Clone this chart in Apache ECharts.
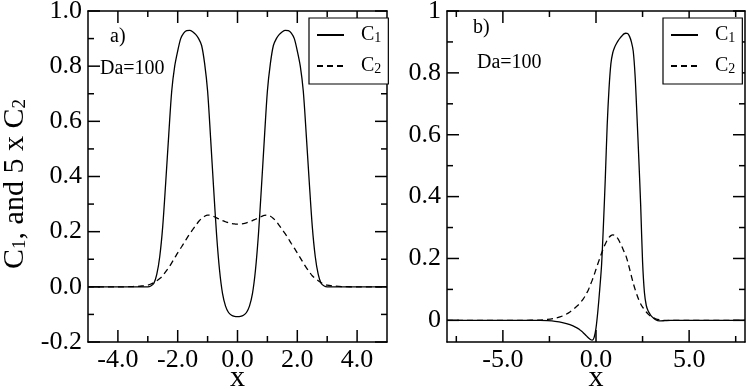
<!DOCTYPE html>
<html>
<head>
<meta charset="utf-8">
<script src="https://cdn.jsdelivr.net/npm/echarts@6/dist/echarts.min.js"></script>
<style>
  html, body { margin: 0; padding: 0; background: #fff; }
  #visualisation { width: 747px; height: 389px; }
</style>
</head>
<body>
<div id="visualisation"></div>
<script>
// Paneel a): symmetrisch profiel, Da=100
const xLeft = [-5, -4, -3.5, -3.2,
  -3.0, -2.9, -2.8, -2.7, -2.6, -2.5, -2.4, -2.3, -2.2, -2.1, -2.0, -1.9, -1.8, -1.7, -1.6, -1.5,
  -1.4, -1.3, -1.2, -1.1, -1.0, -0.9, -0.8, -0.7, -0.6, -0.5, -0.4, -0.3, -0.2, -0.1, 0,
  0.1, 0.2, 0.3, 0.4, 0.5, 0.6, 0.7, 0.8, 0.9, 1.0, 1.1, 1.2, 1.3, 1.4, 1.5,
  1.6, 1.7, 1.8, 1.9, 2.0, 2.1, 2.2, 2.3, 2.4, 2.5, 2.6, 2.7, 2.8, 2.9, 3.0,
  3.2, 3.5, 4, 5];
const c1Left = [0, 0, 0, 0,
  0, 0.003, 0.012, 0.045, 0.11, 0.22, 0.38, 0.55, 0.71, 0.80, 0.855, 0.90, 0.92, 0.929, 0.93, 0.925,
  0.915, 0.90, 0.875, 0.81, 0.71, 0.54, 0.36, 0.19, 0.06, -0.025, -0.07, -0.093, -0.103, -0.107, -0.108,
  -0.107, -0.103, -0.093, -0.07, -0.025, 0.06, 0.19, 0.36, 0.54, 0.71, 0.81, 0.875, 0.90, 0.915, 0.925,
  0.93, 0.929, 0.92, 0.90, 0.855, 0.80, 0.71, 0.55, 0.38, 0.22, 0.11, 0.045, 0.012, 0.003, 0,
  0, 0, 0, 0];
const c2Left = [0, 0, 0.001, 0.003,
  0.006, 0.01, 0.015, 0.022, 0.03, 0.04, 0.055, 0.07, 0.087, 0.105, 0.123, 0.14, 0.157, 0.175, 0.192, 0.207,
  0.222, 0.237, 0.248, 0.256, 0.26, 0.259, 0.255, 0.25, 0.245, 0.24, 0.236, 0.232, 0.229, 0.228, 0.227,
  0.228, 0.229, 0.232, 0.236, 0.24, 0.245, 0.25, 0.255, 0.259, 0.26, 0.256, 0.248, 0.237, 0.222, 0.207,
  0.192, 0.175, 0.157, 0.14, 0.123, 0.105, 0.087, 0.07, 0.055, 0.04, 0.03, 0.022, 0.015, 0.01, 0.006,
  0.003, 0.001, 0, 0];

// Paneel b): enkel front, Da=100
const xRight = [-8, -6, -4, -3, -2.6, -2.2, -1.8, -1.4,
  -1.0, -0.9, -0.8, -0.7, -0.6, -0.5, -0.4, -0.3, -0.2, -0.1,
  0, 0.1, 0.2, 0.3, 0.4, 0.5, 0.6, 0.7, 0.8, 0.9, 1.0, 1.1, 1.2, 1.3, 1.4, 1.5,
  1.6, 1.7, 1.8, 1.9, 2.0, 2.1, 2.2, 2.3, 2.4, 2.5, 2.6, 2.7, 2.8, 2.9, 3.0,
  3.2, 3.4, 3.7, 4, 5, 6, 8];
const c1Right = [0, 0, 0, 0, -0.001, -0.003, -0.007, -0.014,
  -0.025, -0.029, -0.034, -0.039, -0.045, -0.051, -0.057, -0.062, -0.064, -0.055,
  -0.025, 0.03, 0.10, 0.18, 0.31, 0.46, 0.63, 0.75, 0.83, 0.865, 0.883, 0.895, 0.905, 0.913, 0.92, 0.926,
  0.928, 0.927, 0.918, 0.90, 0.87, 0.79, 0.66, 0.52, 0.37, 0.19, 0.09, 0.048, 0.03, 0.02, 0.012,
  0.002, -0.002, -0.001, 0, 0, 0, 0];
const c2Right = [0, 0, 0, 0.001, 0.003, 0.007, 0.014, 0.027,
  0.047, 0.053, 0.06, 0.068, 0.077, 0.088, 0.1, 0.115, 0.13, 0.147,
  0.165, 0.183, 0.2, 0.217, 0.233, 0.247, 0.259, 0.268, 0.274, 0.276, 0.275, 0.27, 0.262, 0.25, 0.237, 0.223,
  0.21, 0.19, 0.167, 0.143, 0.12, 0.1, 0.082, 0.066, 0.053, 0.043, 0.035, 0.027, 0.02, 0.015, 0.011,
  0.005, 0.002, 0, 0, 0, 0, 0];

// Tick posities
const majorLeftX = [-4, -2, 0, 2, 4];
const minorLeftX = [-3, -1, 1, 3];
const majorLeftY = [-0.2, 0, 0.2, 0.4, 0.6, 0.8, 1.0];
const minorLeftY = [-0.1, 0.1, 0.3, 0.5, 0.7, 0.9];
const majorRightX = [-5, 0, 5];
const minorRightX = [-7.5, -2.5, 2.5, 7.5];
const majorRightY = [0, 0.2, 0.4, 0.6, 0.8, 1];
const minorRightY = [0.1, 0.3, 0.5, 0.7, 0.9];

const serif = '"Liberation Serif", "Times New Roman", serif';

// Een as: onder/links met labels, boven/rechts alleen de lijn (kader).
function axis(grid, pos, min, max, labels, extra) {
  return Object.assign({
    type: 'value', gridIndex: grid, position: pos, min: min, max: max,
    axisLine: { show: true, onZero: false, lineStyle: { color: '#000', width: 1.5 } },
    axisTick: { show: false },
    axisLabel: labels ? Object.assign({
      show: true, customValues: labels,
      fontFamily: serif, fontSize: 26, color: '#000'
    }, extra.label) : { show: false },
    splitLine: { show: false }
  }, extra.name || {});
}

function drawVisualisation() {
  let visualisation = echarts.init(document.getElementById('visualisation'));

  const xName = {
    name: 'x', nameLocation: 'middle', nameGap: 21, nameMoveOverlap: false,
    nameTextStyle: { fontFamily: serif, fontSize: 30, color: '#000' }
  };
  const yName = {
    name: '{m|C}{s|1}{m|, and 5 x C}{s|2}{g|  }', nameLocation: 'middle', nameGap: 58, nameRotate: 90,
    nameMoveOverlap: false,
    nameTextStyle: {
      rich: {
        m: { fontFamily: serif, fontSize: 30, lineHeight: 30, color: '#000' },
        s: { fontFamily: serif, fontSize: 19, lineHeight: 12, verticalAlign: 'bottom', color: '#000' },
        g: { fontFamily: serif, fontSize: 30, lineHeight: 30 }
      }
    }
  };
  const fmt1 = { formatter: v => v.toFixed(1), margin: 5 };
  const fmtY = { formatter: v => v.toFixed(1), margin: 6 };
  const fmtB = { formatter: v => String(v), margin: 6 };

  // Panelen: as-indices, bereik en ticks
  const panels = [
    { xi: 0, yi: 0, xmin: -5, xmax: 5, ymin: -0.2, ymax: 1.0,
      majorX: majorLeftX, minorX: minorLeftX, majorY: majorLeftY, minorY: minorLeftY },
    { xi: 2, yi: 2, xmin: -8, xmax: 8, ymin: -0.07, ymax: 1,
      majorX: majorRightX, minorX: minorRightX, majorY: majorRightY, minorY: minorRightY }
  ];

  const xAxes = [
    axis(0, 'bottom', -5, 5, majorLeftX, { label: fmt1, name: xName }),
    axis(0, 'top', -5, 5, null, {}),
    axis(1, 'bottom', -8, 8, majorRightX, { label: fmt1, name: xName }),
    axis(1, 'top', -8, 8, null, {})
  ];
  const yAxes = [
    axis(0, 'left', -0.2, 1.0, majorLeftY, { label: fmtY, name: yName }),
    axis(0, 'right', -0.2, 1.0, null, {}),
    axis(1, 'left', -0.07, 1, majorRightY, { label: fmtB }),
    axis(1, 'right', -0.07, 1, null, {})
  ];

  const line = (name, xs, ys, xi, yi, dashed) => ({
    type: 'line', name: name, xAxisIndex: xi, yAxisIndex: yi,
    data: xs.map((x, i) => [x, ys[i]]),
    symbol: 'none', smooth: 0.3,
    lineStyle: { color: '#000', width: 1.3, type: dashed ? [6, 4] : 'solid' },
    itemStyle: { color: '#000' }
  });

  const legend = (left, top) => ({
    data: ['C1', 'C2'], orient: 'vertical', left: left, top: top, z: 10,
    itemWidth: 27, itemHeight: 14, itemGap: 11,
    padding: [7, 7, 8, 7], borderColor: '#000', borderWidth: 1.2, backgroundColor: '#fff',
    itemStyle: { opacity: 0 },
    formatter: n => '{c|C}{s|' + n.slice(1) + '}',
    textStyle: {
      rich: {
        c: { fontFamily: serif, fontSize: 20, lineHeight: 20, color: '#000', padding: [0, 0, 0, 12] },
        s: { fontFamily: serif, fontSize: 14, lineHeight: 8, verticalAlign: 'bottom', color: '#000' }
      }
    }
  });

  const label = (text, left, top) => ({
    type: 'text', left: left, top: top,
    style: { text: text, font: '20px ' + serif, fill: '#000' }
  });
  const labels = [
    label('a)', 110, 27), label('Da=100', 100, 59),
    label('b)', 473, 18), label('Da=100', 477, 53)
  ];

  let option = {
    backgroundColor: '#fff',
    animation: false,
    grid: [
      { left: 88, top: 11, width: 299, height: 331, outerBoundsMode: 'none', containLabel: false },
      { left: 447, top: 11, width: 298, height: 331, outerBoundsMode: 'none', containLabel: false }
    ],
    xAxis: xAxes,
    yAxis: yAxes,
    legend: [legend(309, 18), legend(663, 18)],
    graphic: labels,
    series: [
      line('C1', xLeft, c1Left, 0, 0, false),
      line('C2', xLeft, c2Left, 0, 0, true),
      line('C1', xRight, c1Right, 2, 2, false),
      line('C2', xRight, c2Right, 2, 2, true)
    ]
  };
  visualisation.setOption(option);

  // Naar binnen gerichte ticks op alle vier de zijden, via de schaal van de assen.
  const tick = (x1, y1, x2, y2) => ({
    type: 'line', z: 1, silent: true,
    shape: { x1: x1, y1: y1, x2: x2, y2: y2 },
    style: { stroke: '#000', lineWidth: 1.5 }
  });
  const ticks = [];
  panels.forEach(p => {
    const toX = v => visualisation.convertToPixel({ xAxisIndex: p.xi }, v);
    const toY = v => visualisation.convertToPixel({ yAxisIndex: p.yi }, v);
    const top = toY(p.ymax), bottom = toY(p.ymin), left = toX(p.xmin), right = toX(p.xmax);
    [[p.majorX, 12], [p.minorX, 6]].forEach(([vals, len]) => vals.forEach(v => {
      const x = toX(v);
      ticks.push(tick(x, bottom, x, bottom - len), tick(x, top, x, top + len));
    }));
    [[p.majorY, 12], [p.minorY, 6]].forEach(([vals, len]) => vals.forEach(v => {
      const y = toY(v);
      ticks.push(tick(left, y, left + len, y), tick(right, y, right - len, y));
    }));
  });
  option.graphic = labels.concat(ticks);
  visualisation.setOption(option, true);
}

window.addEventListener('load', drawVisualisation);
</script>
</body>
</html>
